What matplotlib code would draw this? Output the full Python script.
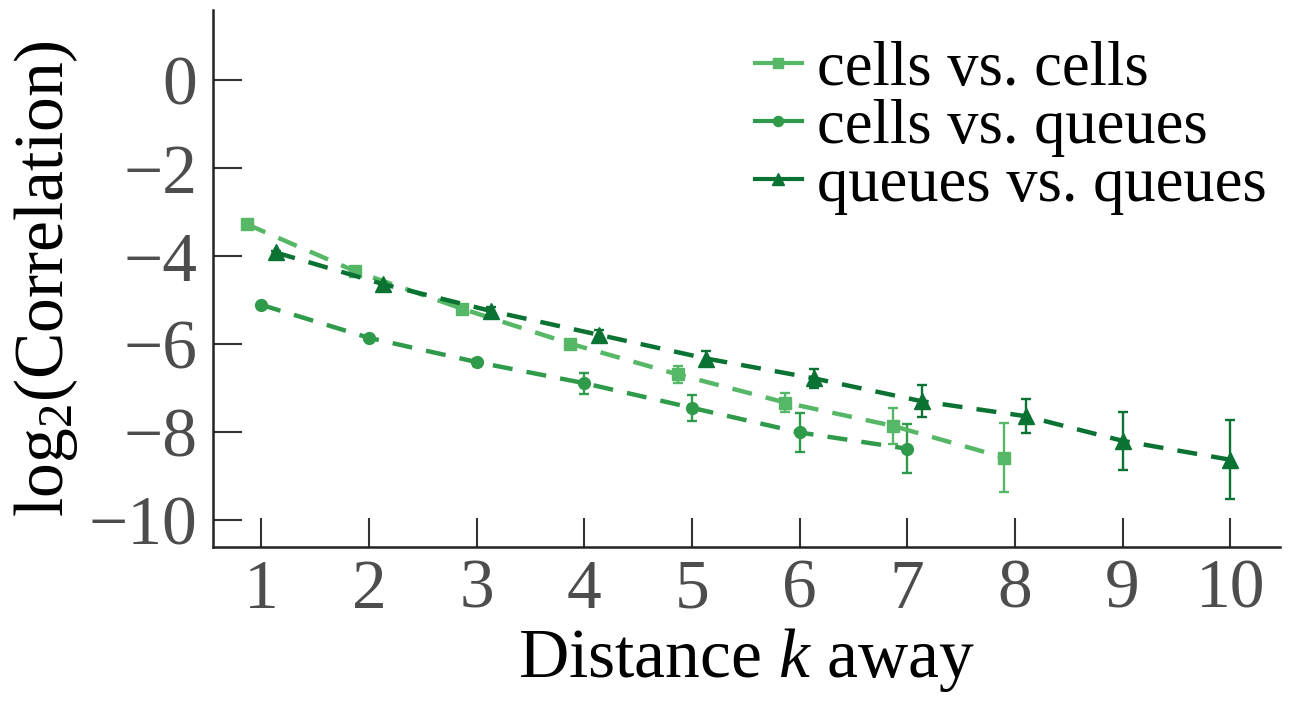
import numpy as np
import matplotlib.pyplot as plt
from matplotlib.lines import Line2D

plt.rcParams['font.family'] = ['Liberation Serif', 'DejaVu Serif']
plt.rcParams['mathtext.fontset'] = 'custom'
plt.rcParams['mathtext.rm'] = 'Liberation Serif'
plt.rcParams['mathtext.it'] = 'Liberation Serif:italic'

# data
labels = ["cells vs. cells", "cells vs. queues", "queues vs. queues"]
k_cc = [1, 2, 3, 4, 5, 6, 7, 8]
y_cc = [-3.27, -4.33, -5.19, -5.98, -6.68, -7.32, -7.85, -8.57]
e_cc = [0.03, 0.05, 0.06, 0.08, 0.19, 0.22, 0.41, 0.78]
k_cq = [1, 2, 3, 4, 5, 6, 7]
y_cq = [-5.10, -5.85, -6.40, -6.88, -7.44, -8.00, -8.37]
e_cq = [0.03, 0.05, 0.08, 0.24, 0.29, 0.44, 0.56]
k_qq = [1, 2, 3, 4, 5, 6, 7, 8, 9, 10]
y_qq = [-3.91, -4.63, -5.24, -5.78, -6.32, -6.77, -7.29, -7.63, -8.19, -8.62]
e_qq = [0.03, 0.05, 0.08, 0.1, 0.18, 0.22, 0.36, 0.39, 0.66, 0.90]

colors = ["#56b866", "#2e9a4a", "#0a7232"]
markers = ["s", "o", "^"]
msizes = [9, 8.5, 11]
dash = (0, (4.5, 3.2))

series = [(k_cc, y_cc, e_cc), (k_cq, y_cq, e_cq), (k_qq, y_qq, e_qq)]

# dodge like ggplot: width 0.4 shared among series present at each k
dodge_w = 0.4
def dodged(idx):
    xs = []
    for k in series[idx][0]:
        present = [i for i, s in enumerate(series) if k in s[0]]
        n = len(present)
        j = present.index(idx)
        xs.append(k + (j - (n - 1) / 2) * dodge_w / n)
    return np.array(xs)

fig = plt.figure(figsize=(12.9, 7.13), dpi=100)
ax = fig.add_axes([0.165, 0.233, 0.827, 0.753])

handles = []
for i, (k, y, e) in enumerate(series):
    ax.errorbar(dodged(i), y, yerr=e, color=colors[i], marker=markers[i],
                markersize=msizes[i], linestyle=dash, linewidth=3.2,
                elinewidth=1.7, capsize=3.5, capthick=1.7)
    handles.append(Line2D([], [], color=colors[i], marker=markers[i],
                          markersize=msizes[i] * 0.85, linestyle="-",
                          linewidth=3.0, label=labels[i]))

ax.set_xlim(0.55, 10.46)
ax.set_ylim(-10.6, 1.6)
ax.set_xticks(range(1, 11))
ax.set_yticks([0, -2, -4, -6, -8, -10])
ax.set_yticklabels(["0", "\u22122", "\u22124", "\u22126", "\u22128", "\u221210"])

for s in ["top", "right"]:
    ax.spines[s].set_visible(False)
for s in ["left", "bottom"]:
    ax.spines[s].set_linewidth(1.8)
    ax.spines[s].set_color("#222222")

ax.tick_params(direction="in", length=21, width=1.5, color="#333333",
               labelsize=50, labelcolor="#4d4d4d")
ax.tick_params(axis="y", pad=11)
ax.tick_params(axis="x", pad=9)

ax.set_xlabel("Distance $k$ away", fontsize=50, labelpad=2)
ax.set_ylabel("log$_2$(Correlation)", fontsize=50, labelpad=6)

ax.legend(handles=handles, loc="upper right", frameon=False, fontsize=45,
          handlelength=0.75, handletextpad=0.25, labelspacing=0.0,
          borderpad=0.1, borderaxespad=0.1, bbox_to_anchor=(1.0, 0.965))

fig.savefig("out.png", dpi=100)
